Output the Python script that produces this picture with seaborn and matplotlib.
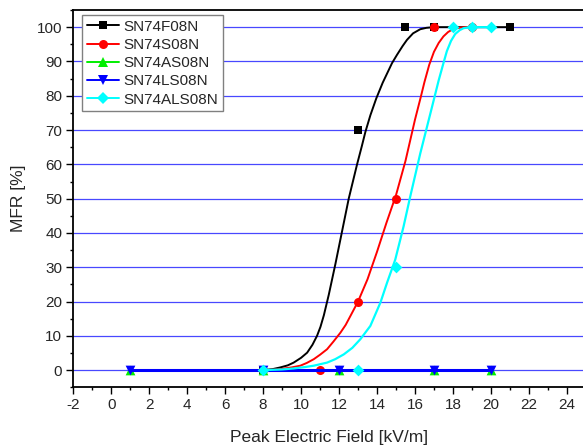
import matplotlib
matplotlib.use("Agg")
import matplotlib.pyplot as plt
import seaborn as sns
import pandas as pd
from matplotlib.lines import Line2D
from matplotlib.ticker import MultipleLocator

# ---------------- data ----------------
series_names = ["SN74F08N", "SN74S08N", "SN74AS08N", "SN74LS08N", "SN74ALS08N"]

# measured points
f08_x = [8, 13, 15.5, 17, 21]
f08_y = [0, 70, 100, 100, 100]
s08_x = [8, 11, 13, 15, 17, 19]
s08_y = [0, 0, 20, 50, 100, 100]
as08_x = [1, 8, 12, 17, 20]
as08_y = [0, 0, 0, 0, 0]
ls08_x = [1, 8, 12, 17, 20]
ls08_y = [0, 0, 0, 0, 0]
als08_x = [8, 13, 15, 18, 19, 20]
als08_y = [0, 0, 30, 100, 100, 100]

# fitted curves
f08_fit_x = [8, 8.5, 8.91, 9.3, 9.61, 10.0, 10.32, 10.6, 10.84, 11.02, 11.2, 11.46, 11.81,
             12.16, 12.51, 12.95, 13.2, 13.39, 13.65, 13.96, 14.3, 14.79, 15.05, 15.35,
             15.58, 15.9, 16.28, 16.6, 16.98, 21]
f08_fit_y = [0, 0.3, 0.8, 1.4, 2.2, 3.6, 5.1, 7.4, 10.0, 12.6, 16.0, 22.0, 31.0,
             40.5, 50.0, 60.0, 65.3, 69.5, 74.3, 79.2, 83.8, 89.5, 91.9, 94.5,
             96.3, 98.2, 99.4, 99.8, 100, 100]
s08_fit_x = [8, 8.5, 8.91, 9.5, 9.96, 10.3, 10.67, 11.0, 11.37, 11.7, 12.07, 12.35, 12.6,
             13.0, 13.5, 14.0, 14.5, 15.0, 15.5, 16.0, 16.3, 16.5, 16.75, 17.0, 17.25,
             17.5, 17.75, 18.0, 18.3, 18.6, 19]
s08_fit_y = [0, 0.1, 0.3, 0.8, 1.3, 2.1, 3.2, 4.5, 6.1, 8.3, 10.9, 13.2, 15.8,
             20, 26.5, 34.5, 43, 51, 61, 73, 79.5, 84, 89, 92.8, 95.4,
             97.3, 98.6, 99.4, 99.8, 100, 100]
als08_fit_x = [8, 9.0, 9.61, 10.2, 10.67, 11.37, 11.8, 12.25, 12.7, 13.12, 13.65, 14.18,
               14.53, 14.96, 15.4, 15.75, 16.28, 16.81, 17.25, 17.5, 17.68, 17.9, 18.12,
               18.35, 18.56, 18.8, 19.09, 20]
als08_fit_y = [0, 0.2, 0.5, 0.9, 1.3, 2.2, 3.2, 4.6, 6.5, 9.0, 12.9, 19.7,
               25.5, 32.2, 41.9, 50.6, 63.2, 74.8, 84.5, 89.5, 93.0, 96.0, 98.0,
               99.1, 99.7, 99.9, 100, 100]

# ---------------- style ----------------
sns.set_style("ticks")
plt.rcParams["font.family"] = ["Liberation Sans", "DejaVu Sans"]
plt.rcParams["axes.unicode_minus"] = False

fig = plt.figure(figsize=(5.83, 4.47), dpi=100)
ax = fig.add_axes([73.3 / 583, 1 - 387.3 / 447, (585.8 - 73.3) / 583, (387.3 - 10) / 447])

colors = ["#000000", "#ff0000", "#00ee00", "#0000ff", "#00ffff"]
markers = ["s", "o", "^", "v", "D"]
msizes = [6, 6.5, 7, 7, 6]

ax.yaxis.grid(True, color="#4848ff", lw=0.9)
ax.set_axisbelow(True)

# black
sns.lineplot(x=f08_fit_x, y=f08_fit_y, ax=ax, color=colors[0], lw=1.4, sort=False, estimator=None, zorder=3)
sns.scatterplot(x=f08_x, y=f08_y, ax=ax, color=colors[0], marker=markers[0], s=msizes[0] ** 2, linewidth=0, zorder=4)
# red
sns.lineplot(x=s08_fit_x, y=s08_fit_y, ax=ax, color=colors[1], lw=1.4, sort=False, estimator=None, zorder=5)
sns.scatterplot(x=s08_x, y=s08_y, ax=ax, color=colors[1], marker=markers[1], s=msizes[1] ** 2, linewidth=0, zorder=6)
# green
sns.lineplot(x=as08_x, y=as08_y, ax=ax, color=colors[2], lw=2.0, sort=False, estimator=None, zorder=7)
sns.scatterplot(x=as08_x, y=as08_y, ax=ax, color=colors[2], marker=markers[2], s=msizes[2] ** 2, linewidth=0, zorder=8)
# blue
sns.lineplot(x=ls08_x, y=ls08_y, ax=ax, color=colors[3], lw=2.2, sort=False, estimator=None, zorder=9)
sns.scatterplot(x=ls08_x, y=ls08_y, ax=ax, color=colors[3], marker=markers[3], s=msizes[3] ** 2, linewidth=0, zorder=10)
# cyan
sns.lineplot(x=als08_fit_x, y=als08_fit_y, ax=ax, color=colors[4], lw=1.6, sort=False, estimator=None, zorder=11)
sns.scatterplot(x=als08_x, y=als08_y, ax=ax, color=colors[4], marker=markers[4], s=msizes[4] ** 2, linewidth=0, zorder=12)

ax.set_xlim(-2, 25)
ax.set_ylim(-5, 105)
ax.xaxis.set_major_locator(MultipleLocator(2))
ax.xaxis.set_minor_locator(MultipleLocator(1))
ax.yaxis.set_major_locator(MultipleLocator(10))
ax.yaxis.set_minor_locator(MultipleLocator(5))
ax.tick_params(which="major", direction="out", length=5, width=1, labelsize=11, pad=3, color="black")
ax.tick_params(which="minor", direction="out", length=2.5, width=1, color="black")
for s in ax.spines.values():
    s.set_linewidth(1.3)
    s.set_color("black")

ax.set_xlabel("Peak Electric Field [kV/m]", fontsize=12.5, labelpad=12.5)
ax.set_ylabel("MFR [%]", fontsize=12.5, labelpad=8)

handles = [Line2D([], [], color=c, marker=m, markersize=ms, lw=1.4, markeredgewidth=0)
           for c, m, ms in zip(colors, markers, msizes)]
leg = ax.legend(handles, series_names, loc="upper left",
                bbox_to_anchor=(82 / 583, 1 - 15 / 447), bbox_transform=fig.transFigure,
                fontsize=11, frameon=True, fancybox=False, framealpha=1,
                handlelength=2.1, handletextpad=0.3, labelspacing=0.28,
                borderpad=0.3, borderaxespad=0)
leg.get_frame().set_edgecolor("#808080")
leg.get_frame().set_linewidth(1.0)

fig.savefig("out.png", dpi=100)
